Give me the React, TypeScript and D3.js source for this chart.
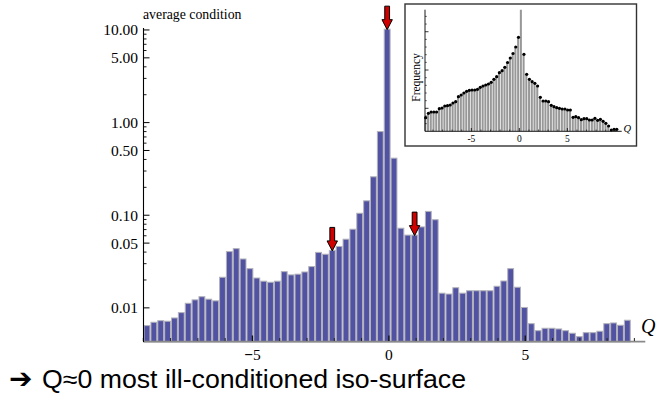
import React from "react";
import * as d3 from "d3";

// ---------- main histogram (average condition vs Q, log scale) ----------
const binStart = -8.99;
const binWidth = 0.2515;
const mainValues = [
  0.00643, 0.00699, 0.00727, 0.00717, 0.00778, 0.00888, 0.0112, 0.0122, 0.0132, 0.0124,
  0.0119, 0.0214, 0.0405, 0.0436, 0.0337, 0.0265, 0.021, 0.0194, 0.0189, 0.0194,
  0.0246, 0.0227, 0.0231, 0.0244, 0.0279, 0.0397, 0.0379, 0.0417, 0.046, 0.0551,
  0.0706, 0.105, 0.143, 0.26, 0.8, 10.2, 0.413, 0.0724, 0.061, 0.061,
  0.0748, 0.11, 0.0894, 0.0144, 0.0141, 0.0165, 0.0144, 0.0153, 0.0153, 0.0153,
  0.0153, 0.0171, 0.0195, 0.0265, 0.0167, 0.0101, 0.00675, 0.00567, 0.00602, 0.00602,
  0.00592, 0.00567, 0.00532, 0.00489, 0.0054, 0.0054, 0.00559, 0.00675, 0.00687, 0.00649,
  0.00735,
];
const arrowBins = [27, 35, 39];
const yMajorTicks = [0.01, 0.05, 0.1, 0.5, 1, 5, 10];
const xMajorTicks = [-5, 0, 5];

// ---------- inset histogram (frequency vs Q) ----------
const insetBinStart = -9.9;
const insetBinWidth = 0.2844;
const insetValues = [
  755, 870, 904, 904, 904, 990, 1008, 1061, 1068, 1087,
  1139, 1173, 1303, 1348, 1400, 1444, 1471, 1478, 1478, 1497,
  1549, 1583, 1609, 1635, 1679, 1758, 1826, 1930, 1982, 2071,
  2196, 2314, 2431, 2601, 2854, 4000, 2410, 1888, 1758, 1695,
  1653, 1583, 1288, 1191, 1191, 1173, 1079, 1042, 1016, 1001,
  982, 982, 956, 956, 766, 781, 755, 703, 729, 729,
  695, 695, 739, 687, 713, 661, 609, 538, 434, 452,
  452,
];
const insetXTicks = [-5, 0, 5];
const insetYTicks = [1000, 2000, 3000];

const caption = "Q≈0 most ill-conditioned iso-surface";

const serif = "'Liberation Serif', 'Times New Roman', serif";
const sans = "'Liberation Sans', Arial, sans-serif";

export default function App() {
  const W = 658;
  const H = 394;

  // main scales
  const x = d3.scaleLinear().domain([-9, 9.4]).range([143.3, 645.3]);
  const y = d3.scaleLog().domain([0.00428, 10.5]).range([342, 28]);
  const yBase = 342;

  const minorY: number[] = [];
  for (let k = -2; k <= 0; k++) {
    for (let m = 2; m <= 9; m++) {
      if (m === 5) continue;
      minorY.push(m * Math.pow(10, k));
    }
  }
  const minorX = d3.range(-9, 10).filter((q) => !xMajorTicks.includes(q));

  const fmt = d3.format(".2f");

  const arrowPath = (cx: number, tip: number) => {
    const L = 23.5, hl = 10, sw = 2.4, hw = 5.2;
    return `M${cx - sw},${tip - L}L${cx + sw},${tip - L}L${cx + sw},${tip - hl}L${cx + hw},${tip - hl}L${cx},${tip}L${cx - hw},${tip - hl}L${cx - sw},${tip - hl}Z`;
  };

  // inset scales
  const ix = d3.scaleLinear().domain([-9.9, 10.6]).range([424.3, 621.1]);
  const iy = d3.scaleLinear().domain([400, 3575]).range([131.3, 9.7]);
  const iyMinor = d3.range(600, 3575, 200).filter((v) => v % 1000 !== 0);
  const ixMinor = d3.range(-9, 11).filter((q) => !insetXTicks.includes(q));

  return (
    <svg
      width={W}
      height={H}
      viewBox={`0 0 ${W} ${H}`}
      style={{ position: "absolute", left: 0, top: 0, background: "#fff" }}
    >
      <defs>
        <clipPath id="insetClip">
          <rect x={424} y={9.7} width={200} height={122} />
        </clipPath>
      </defs>

      {/* main bars */}
      <g>
        {mainValues.map((v, i) => {
          const x0 = x(binStart + i * binWidth);
          const x1 = x(binStart + (i + 1) * binWidth);
          const yt = y(v);
          return (
            <rect
              key={i}
              x={x0 + 0.5}
              y={yt}
              width={x1 - x0 - 1}
              height={yBase - yt}
              fill="#5252a2"
              stroke="#b2b2bc"
              strokeWidth={1}
            />
          );
        })}
      </g>

      {/* x axis */}
      <line x1={143.3} x2={645.3} y1={341.6} y2={341.6} stroke="#8a8a8a" strokeWidth={1.6} />
      {minorX.map((q) => (
        <line key={q} x1={x(q)} x2={x(q)} y1={341} y2={338} stroke="#222" strokeWidth={1} />
      ))}
      {xMajorTicks.map((q) => (
        <line key={q} x1={x(q)} x2={x(q)} y1={341} y2={335.5} stroke="#111" strokeWidth={1.3} />
      ))}
      {xMajorTicks.map((q) => (
        <text
          key={q}
          x={x(q)}
          y={359.5}
          textAnchor="middle"
          fontFamily={serif}
          fontSize={15.5}
          fill="#000"
        >
          {q < 0 ? (
            <>
              <tspan fontWeight="bold">−</tspan>
              {Math.abs(q)}
            </>
          ) : (
            String(q)
          )}
        </text>
      ))}
      <text x={641} y={333} fontFamily={serif} fontStyle="italic" fontSize={20} fill="#000">
        Q
      </text>

      {/* y axis */}
      <line x1={143.5} x2={143.5} y1={28} y2={342} stroke="#000" strokeWidth={1.1} />
      {minorY.map((v) => (
        <line key={v} x1={143.5} x2={146.5} y1={y(v)} y2={y(v)} stroke="#000" strokeWidth={0.9} />
      ))}
      {yMajorTicks.map((v) => (
        <line key={v} x1={143.5} x2={149.5} y1={y(v)} y2={y(v)} stroke="#000" strokeWidth={1} />
      ))}
      {yMajorTicks.map((v) => (
        <text
          key={v}
          x={138}
          y={y(v)}
          dy="0.35em"
          textAnchor="end"
          fontFamily={serif}
          fontSize={15.5}
          fill="#000"
        >
          {fmt(v)}
        </text>
      ))}
      <text x={143} y={18.5} fontFamily={serif} fontSize={13.8} fill="#000">
        average condition
      </text>

      {/* red arrows */}
      {arrowBins.map((b) => {
        const cx = x(binStart + (b + 0.5) * binWidth);
        const tip = y(mainValues[b]) + 0.5;
        return (
          <path key={b} d={arrowPath(cx, tip)} fill="#d00000" stroke="#000" strokeWidth={1} strokeLinejoin="miter" />
        );
      })}

      {/* inset */}
      <rect x={405} y={4} width={231.5} height={142} fill="#fff" stroke="#333" strokeWidth={1.4} />
      <g clipPath="url(#insetClip)">
        {insetValues.map((v, i) => {
          const x0 = ix(insetBinStart + i * insetBinWidth);
          const x1 = ix(insetBinStart + (i + 1) * insetBinWidth);
          const yt = iy(v);
          return (
            <rect key={i} x={x0} y={yt} width={Math.max(0.5, x1 - x0 - 0.7)} height={131.3 - yt} fill="#989898" />
          );
        })}
        {insetValues.map((v, i) => {
          const cx = ix(insetBinStart + (i + 0.5) * insetBinWidth);
          return <circle key={i} cx={cx} cy={iy(v)} r={1.6} fill="#000" />;
        })}
      </g>
      <line x1={425} x2={425} y1={9.7} y2={131.3} stroke="#000" strokeWidth={0.9} />
      <line x1={425} x2={621.7} y1={131.3} y2={131.3} stroke="#000" strokeWidth={0.9} />
      {iyMinor.map((v) => (
        <line key={v} x1={425} x2={426.8} y1={iy(v)} y2={iy(v)} stroke="#000" strokeWidth={0.6} />
      ))}
      {insetYTicks.map((v) => (
        <line key={v} x1={425} x2={428.5} y1={iy(v)} y2={iy(v)} stroke="#000" strokeWidth={0.8} />
      ))}
      {ixMinor.map((q) => (
        <line key={q} x1={ix(q)} x2={ix(q)} y1={131.3} y2={129.5} stroke="#000" strokeWidth={0.6} />
      ))}
      {insetXTicks.map((q) => (
        <line key={q} x1={ix(q)} x2={ix(q)} y1={131.3} y2={128} stroke="#000" strokeWidth={0.8} />
      ))}
      {insetXTicks.map((q) => (
        <text key={q} x={ix(q)} y={142} textAnchor="middle" fontFamily={serif} fontSize={9.5} fill="#000">
          {q < 0 ? `-${Math.abs(q)}` : String(q)}
        </text>
      ))}
      <text x={623.5} y={131.5} fontFamily={serif} fontStyle="italic" fontSize={10.5} fill="#000">
        Q
      </text>
      <text
        transform="translate(419.5,77.5) rotate(-90)"
        textAnchor="middle"
        fontFamily={serif}
        fontSize={11.5}
        fill="#000"
      >
        Frequency
      </text>

      {/* caption */}
      <text x={9} y={387.5} fontFamily="'DejaVu Sans', sans-serif" fontSize={28} fill="#000">
        ➔
      </text>
      <text
        x={42}
        y={387.5}
        fontFamily={sans}
        fontSize={25}
        textLength={424}
        lengthAdjust="spacingAndGlyphs"
        fill="#000"
      >
        {caption}
      </text>
    </svg>
  );
}
